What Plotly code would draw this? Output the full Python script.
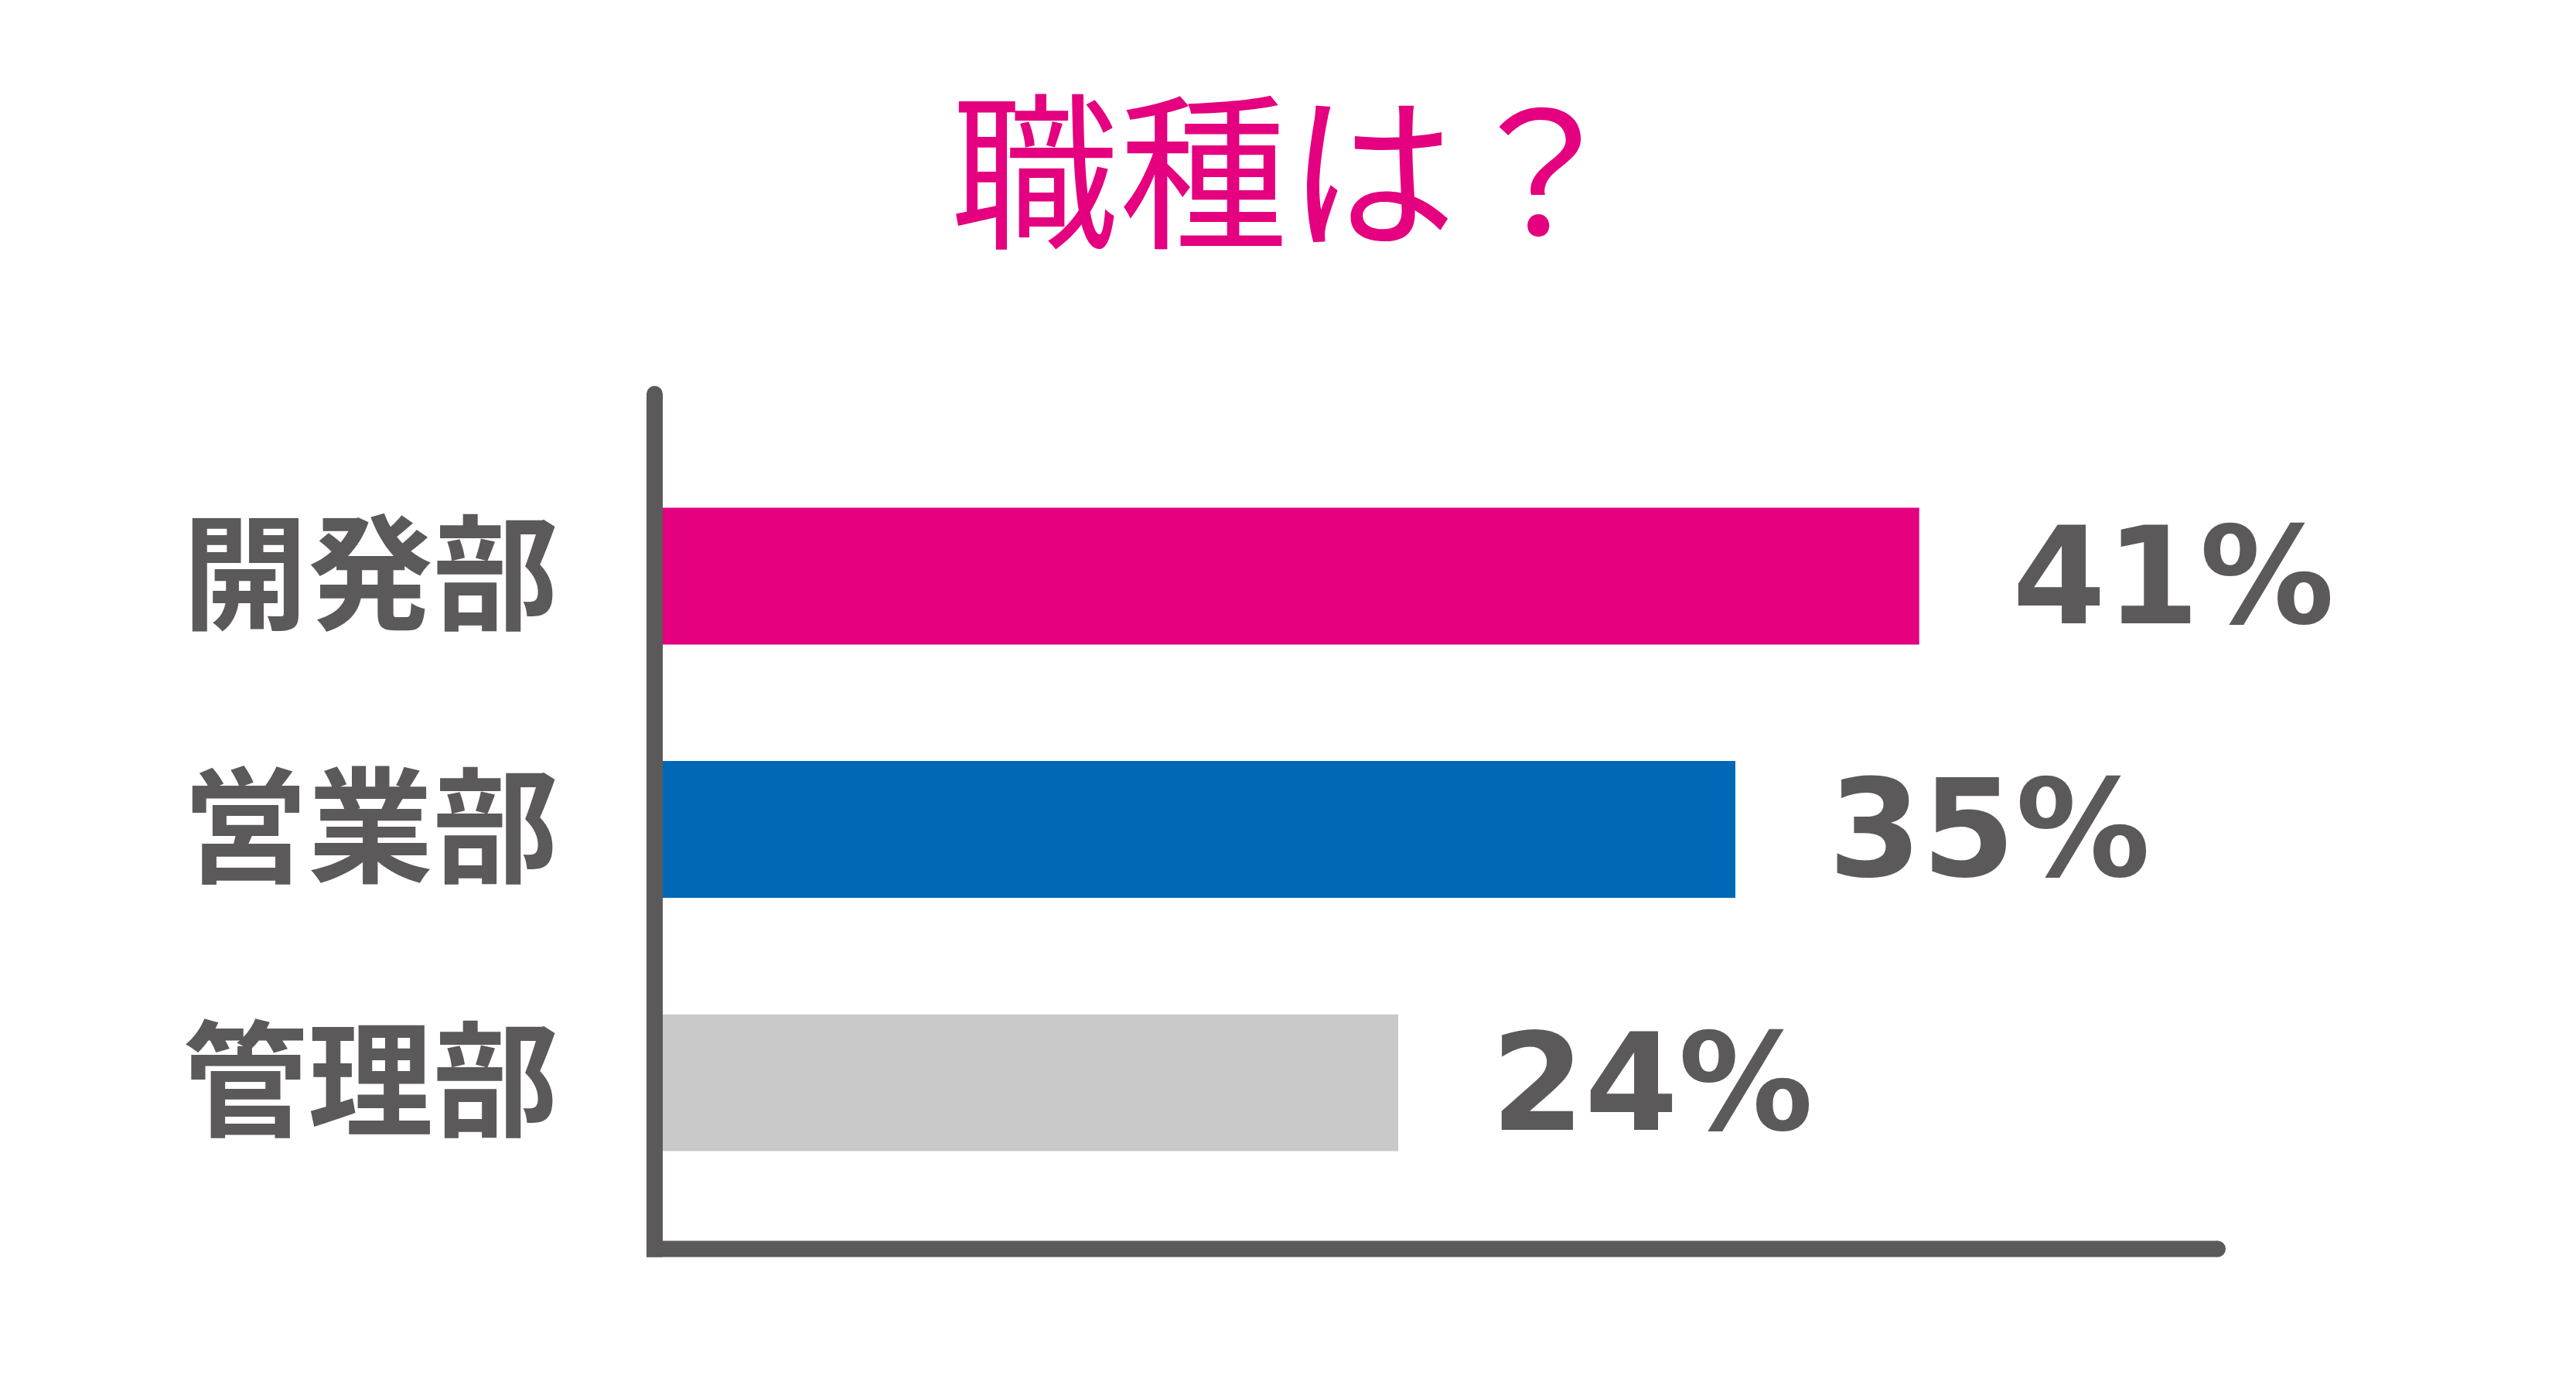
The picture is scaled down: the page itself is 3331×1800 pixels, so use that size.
import plotly.graph_objects as go

# data
categories = ["開発部", "営業部", "管理部"]
values = [41, 35, 24]
labels = ["41%", "35%", "24%"]
colors = ["#E4007F", "#0068B7", "#C9C9C9"]

TEXT_GREY = "#5B5959"
# the page body adds an 8px margin, so the figure is a little smaller than the window
W, H = 3315, 1784
M = {"l": 849, "r": 445, "t": 491, "b": 177}
AXIS_W = 21

fig = go.Figure(
    go.Bar(
        x=values,
        y=categories,
        orientation="h",
        marker={"color": colors, "line": {"width": 0}},
        width=0.54,
        hoverinfo="skip",
    )
)

# percent labels just right of each bar
for cat, val, lab in zip(categories, values, labels):
    fig.add_annotation(
        x=val, y=cat, text=lab, showarrow=False,
        xanchor="left", yanchor="middle", xshift=118,
        font={"family": "DejaVu Sans", "size": 174, "color": TEXT_GREY, "weight": "bold"},
    )

# axis lines drawn as shapes (paper coords), with rounded ends
pw = W - M["l"] - M["r"]
ph = H - M["t"] - M["b"]
half = AXIS_W / 2
vx = -half / pw
fig.add_shape(type="line", xref="paper", yref="paper",
              x0=vx, x1=vx, y0=-half / ph, y1=1 - half / ph,
              line={"color": TEXT_GREY, "width": AXIS_W})
fig.add_shape(type="line", xref="paper", yref="paper",
              x0=-AXIS_W / pw, x1=1 - half / pw, y0=0, y1=0,
              line={"color": TEXT_GREY, "width": AXIS_W})
for cx, cy in [(vx, 1 - half / ph), (1 - half / pw, 0)]:
    fig.add_shape(type="circle", xref="paper", yref="paper",
                  xsizemode="pixel", ysizemode="pixel", xanchor=cx, yanchor=cy,
                  x0=-half, x1=half, y0=-half, y1=half,
                  fillcolor=TEXT_GREY, line={"width": 0})

fig.update_xaxes(range=[0, 51.0], visible=False, showgrid=False, zeroline=False)
fig.update_yaxes(
    categoryorder="array", categoryarray=categories,
    range=[2.656, -0.751],
    showgrid=False, zeroline=False, showline=False, ticks="",
    ticklabelstandoff=134,
    tickfont={"family": "Noto Sans CJK JP", "size": 162, "color": TEXT_GREY, "weight": "bold"},
)
fig.update_layout(
    width=W, height=H,
    margin={**M, "pad": 0, "autoexpand": False},
    paper_bgcolor="white", plot_bgcolor="white",
    showlegend=False,
    title={
        "text": "職種は？", "x": 1657 / W, "xanchor": "center",
        "y": 1 - 221 / H, "yanchor": "middle", "yref": "container",
        "font": {"family": "Noto Sans CJK JP", "size": 218, "color": "#E4007F"},
    },
)

fig.write_html("out.html")
